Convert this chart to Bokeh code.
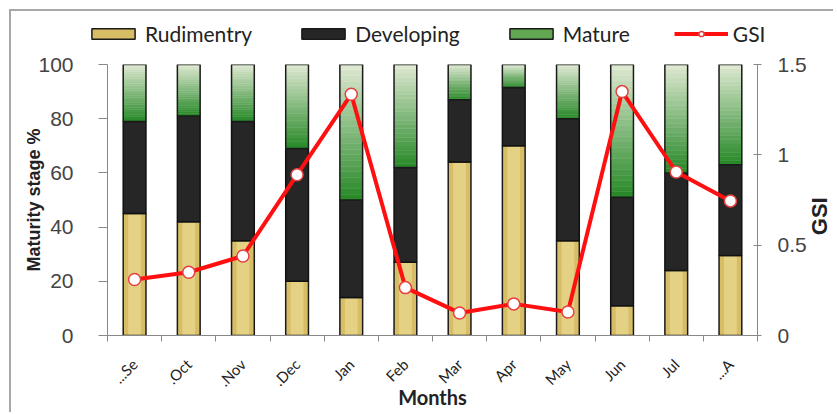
import numpy as np
from bokeh.plotting import figure
from bokeh.models import Range1d, LinearAxis, FixedTicker, Legend, LegendItem, Spacer, Label
from bokeh.layouts import row, column
from bokeh.embed import file_html
from bokeh.resources import INLINE

months = ["...Se", ".Oct", ".Nov", ".Dec", "Jan", "Feb", "Mar", "Apr", "May", "Jun", "Jul", "...A"]
rudimentry = [45, 42, 35, 20, 14, 27, 64, 70, 35, 11, 24, 29.5]
developing = [34, 39, 44, 49, 36, 35, 23, 21.5, 45, 40, 36, 33.5]
mature = [21, 19, 21, 31, 50, 38, 13, 8.5, 20, 49, 40, 37]
gsi = [0.31, 0.35, 0.44, 0.89, 1.335, 0.265, 0.125, 0.175, 0.13, 1.35, 0.905, 0.745]
left_ticks = [0, 20, 40, 60, 80, 100]
right_ticks = [0, 0.5, 1, 1.5]
right_labels = ["0", "0.5", "1", "1.5"]

GOLD = "#d6bd66"
GOLD_L = "#e8d88e"
BLACK = "#262626"
RED = "#ff1010"
BORDER = "2px solid #a8a8a8"

n = len(months)
xc = np.arange(n) + 0.5
bw = 0.42
rud = np.array(rudimentry, float)
dev = np.array(developing, float)
mat = np.array(mature, float)
r_top = rud
d_top = rud + dev
m_top = d_top + mat

GW = 26  # width of the strip holding the GSI title
p = figure(width=824 - GW, height=359, output_backend="svg", toolbar_location=None,
           x_range=Range1d(0, n), y_range=Range1d(0, 100),
           min_border_left=96, min_border_right=52, min_border_top=11, min_border_bottom=74)
p.extra_y_ranges = {"gsi": Range1d(0, 1.5)}
p.styles = {"border-left": BORDER}
p.xgrid.visible = False
p.ygrid.visible = False
p.outline_line_color = None

# rudimentary (gold)
p.quad(left=xc - bw / 2, right=xc + bw / 2, bottom=0, top=r_top,
       fill_color=GOLD, line_color=None)
p.quad(left=xc - bw * 0.28, right=xc + bw * 0.28, bottom=0, top=r_top,
       fill_color=GOLD_L, line_color=None, fill_alpha=0.75)
p.quad(left=xc - bw / 2, right=xc + bw / 2, bottom=0, top=r_top,
       fill_color=None, line_color="#1a1a1a", line_width=1.5)

# developing (black)
p.quad(left=xc - bw / 2, right=xc + bw / 2, bottom=r_top, top=d_top,
       fill_color=BLACK, line_color="#111111", line_width=1.5)

# mature (green gradient)
N = 24
c0 = np.array([0x2a, 0x8a, 0x2a])
c1 = np.array([0xdc, 0xe8, 0xd0])
for k in range(N):
    f = k / (N - 1)
    c = (c0 * (1 - f) + c1 * f).astype(int)
    col = "#%02x%02x%02x" % tuple(c)
    b = d_top + mat * k / N
    t = d_top + mat * (k + 1) / N
    p.quad(left=xc - bw / 2, right=xc + bw / 2, bottom=b, top=t,
           fill_color=col, line_color=col, line_width=0.5)
p.quad(left=xc - bw / 2, right=xc + bw / 2, bottom=d_top, top=m_top,
       fill_alpha=0, line_color="#1a1a1a", line_width=1.5)

# GSI line
p.line(xc, gsi, y_range_name="gsi", line_color=RED, line_width=4)
p.scatter(xc, gsi, y_range_name="gsi", size=12, fill_color="white",
          line_color="#e84040", line_width=1.5)

# x axis: labels at bar centres, small ticks at category boundaries
ax = p.xaxis[0]
ax.ticker = FixedTicker(ticks=list(xc), minor_ticks=list(range(n + 1)))
ax.major_label_overrides = {float(x): m for x, m in zip(xc, months)}
ax.major_tick_out = 0
ax.major_tick_in = 0
ax.minor_tick_out = 6
ax.minor_tick_in = 0
ax.axis_line_color = "#888888"
ax.minor_tick_line_color = "#888888"
ax.major_label_orientation = np.pi / 4
ax.major_label_text_font = "Lato"
ax.major_label_text_font_size = "15px"
ax.major_label_text_color = "#222222"
ax.major_label_standoff = 20
ax.axis_label = "Months"
ax.axis_label_text_font = "Lato"
ax.axis_label_text_font_style = "bold"
ax.axis_label_text_font_size = "20px"
ax.axis_label_text_color = "#222222"
ax.axis_label_standoff = -14

ya = p.yaxis[0]
ya.ticker = FixedTicker(ticks=left_ticks)
ya.major_label_text_font = "Liberation Sans"
ya.major_label_text_font_size = "21px"
ya.major_label_text_color = "#444444"
ya.major_label_standoff = 25
ya.major_tick_out = 9
ya.major_tick_in = 0
ya.minor_tick_out = 0
ya.minor_tick_in = 0
ya.axis_line_color = "#888888"
ya.major_tick_line_color = "#888888"
ya.axis_label = "Maturity stage %"
ya.axis_label_text_font = "Liberation Sans"
ya.axis_label_text_font_style = "bold"
ya.axis_label_text_font_size = "18px"
ya.axis_label_text_color = "#222222"
ya.axis_label_standoff = -9

ra = LinearAxis(y_range_name="gsi", ticker=FixedTicker(ticks=right_ticks),
                major_label_overrides={float(t): s for t, s in zip(right_ticks, right_labels)})
ra.major_label_text_font = "Liberation Sans"
ra.major_label_text_font_size = "21px"
ra.major_label_text_color = "#444444"
ra.major_label_standoff = 16
ra.major_tick_out = 4
ra.major_tick_in = 4
ra.minor_tick_out = 0
ra.minor_tick_in = 0
ra.axis_line_color = "#888888"
ra.major_tick_line_color = "#888888"
p.add_layout(ra, "right")

# narrow strip to the right carrying the GSI title (reads bottom to top)
gf = figure(width=GW, height=359, output_backend="svg", toolbar_location=None,
            x_range=Range1d(0, 1), y_range=Range1d(0, 1),
            x_axis_location=None, y_axis_location=None,
            min_border_left=0, min_border_right=0, min_border_top=0, min_border_bottom=0)
gf.grid.visible = False
gf.outline_line_color = None
gf.add_layout(Label(x=0.45, y=0.44, text="GSI", angle=np.pi / 2,
                    text_align="center", text_baseline="middle",
                    text_font="Liberation Sans", text_font_style="bold",
                    text_font_size="22px", text_color="#222222"))

# legend strip above the chart
lg = figure(width=824, height=44, output_backend="svg", toolbar_location=None,
            x_range=Range1d(0, 1), y_range=Range1d(0, 1),
            x_axis_location=None, y_axis_location=None,
            min_border_left=0, min_border_right=0, min_border_top=0, min_border_bottom=0)
lg.grid.visible = False
lg.outline_line_color = None
lg.styles = {"border-left": BORDER, "border-top": BORDER}
off = dict(left=[5], right=[6], top=[6], bottom=[5])  # outside the visible range
g1 = lg.quad(**off, fill_color=GOLD, line_color="#1a1a1a", line_width=1.5)
g2 = lg.quad(**off, fill_color=BLACK, line_color="#1a1a1a", line_width=1.5)
g3 = lg.quad(**off, fill_color="#62a852", line_color="#1a1a1a", line_width=1.5)
g4 = lg.line(x=[5, 6], y=[5, 6], line_color=RED, line_width=4)
g5 = lg.scatter(x=[5], y=[5], size=12, fill_color="white", line_color="#e84040", line_width=1.5)

legend = Legend(items=[
    LegendItem(label="Rudimentry", renderers=[g1]),
    LegendItem(label="Developing", renderers=[g2]),
    LegendItem(label="Mature", renderers=[g3]),
    LegendItem(label="GSI", renderers=[g4, g5]),
], orientation="horizontal", location=(75, 9))
legend.border_line_alpha = 0
legend.background_fill_alpha = 0
legend.padding = 0
legend.margin = 0
legend.spacing = 44
legend.glyph_width = 54
legend.glyph_height = 13
legend.label_standoff = 5
legend.label_text_font = "Lato"
legend.label_text_font_size = "21px"
legend.label_text_color = "#222222"
lg.add_layout(legend, "center")

layout = row(Spacer(width=9, height=403),
             column(Spacer(width=824, height=9), lg, row(p, gf)))
open("out.html", "w").write(file_html(layout, INLINE))
